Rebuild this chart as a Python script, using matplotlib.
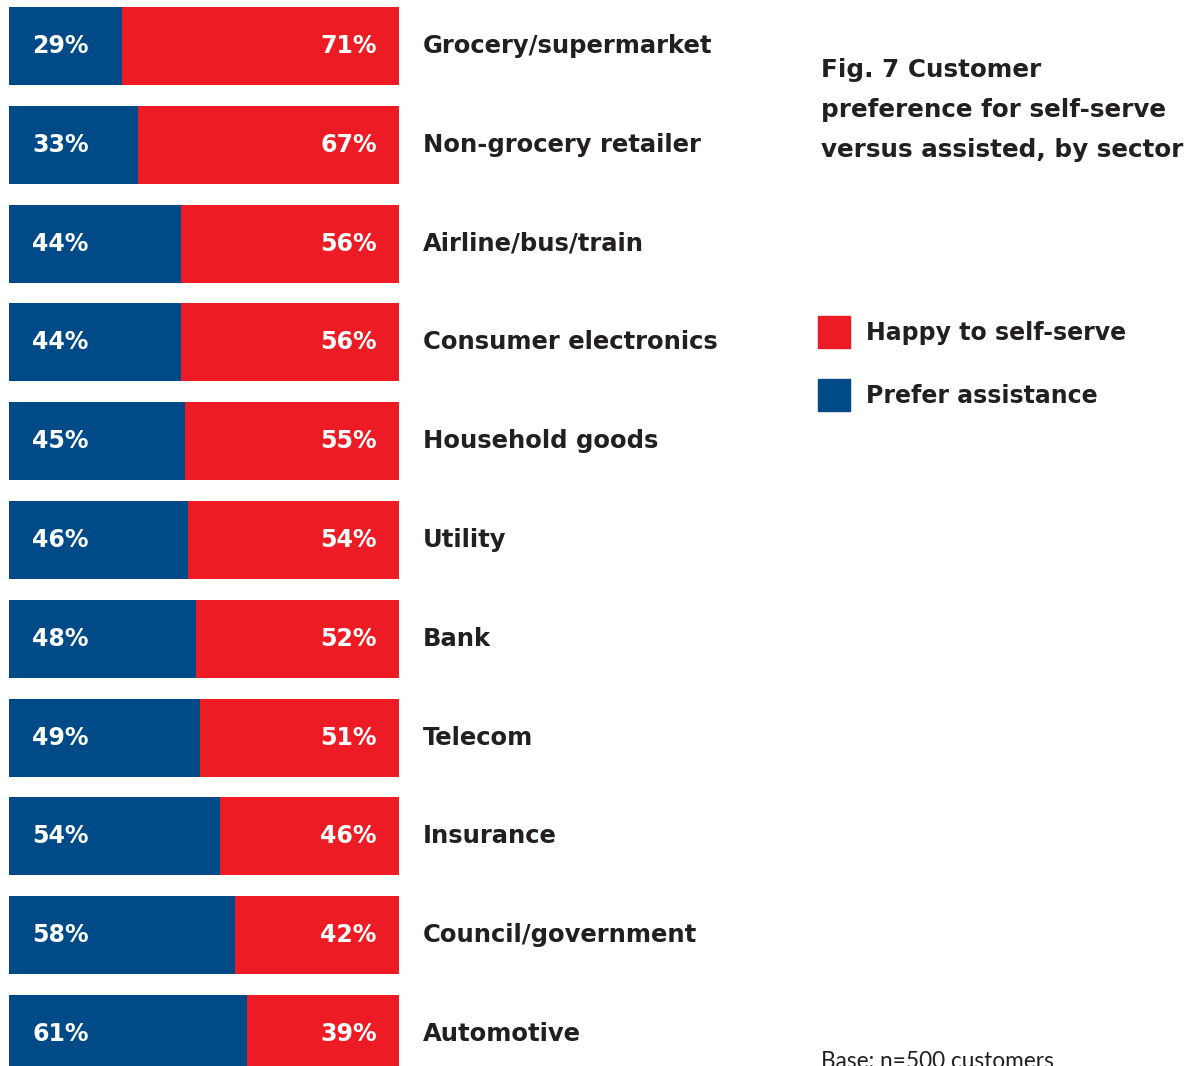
import matplotlib.pyplot as plt
from matplotlib.patches import Rectangle

sectors = ["Grocery/supermarket", "Non-grocery retailer", "Airline/bus/train",
           "Consumer electronics", "Household goods", "Utility", "Bank",
           "Telecom", "Insurance", "Council/government", "Automotive"]
prefer_assist = [29, 33, 44, 44, 45, 46, 48, 49, 54, 58, 61]
self_serve = [71, 67, 56, 56, 55, 54, 52, 51, 46, 42, 39]

BLUE = "#004a87"
RED = "#ed1c24"
DARK = "#231f20"

W, H = 1184, 1066
plt.rcParams['font.family'] = ['DejaVu Sans']

fig = plt.figure(figsize=(W / 100, H / 100), dpi=100)

# bar area spans x pixels 9..399 and the full height
ax = fig.add_axes([9 / W, 0, 390 / W, 1])
step = 98.8
first_center = 46
ax.set_xlim(0, 100)
ax.set_ylim((H - first_center) / step, -first_center / step)
ax.axis("off")

y = range(len(sectors))
ax.barh(y, prefer_assist, height=0.79, color=BLUE)
ax.barh(y, self_serve, left=prefer_assist, height=0.79, color=RED)

for i, (a, s, name) in enumerate(zip(prefer_assist, self_serve, sectors)):
    ax.text(5.9, i, f"{a}%", color="white", fontsize=17, fontweight="bold",
            va="center", ha="left")
    ax.text(94.3, i, f"{s}%", color="white", fontsize=17, fontweight="bold",
            va="center", ha="right")
    ax.text(106.2, i, name, color=DARK, fontsize=17.5, fontweight="bold",
            va="center", ha="left", clip_on=False)

# title block
title_lines = ["Fig. 7 Customer", "preference for self-serve",
               "versus assisted, by sector"]
for k, line in enumerate(title_lines):
    fig.text(821 / W, 1 - (70 + 40 * k) / H, line, color=DARK, fontsize=17.7,
             fontweight="bold", va="center", ha="left")

# legend
legend_items = [("Happy to self-serve", RED), ("Prefer assistance", BLUE)]
for k, (label, col) in enumerate(legend_items):
    top = 316 + 63 * k
    fig.patches.append(Rectangle((818 / W, 1 - (top + 32) / H), 32 / W, 32 / H,
                                 transform=fig.transFigure, color=col))
    fig.text(866 / W, 1 - (top + 17) / H, label, color=DARK, fontsize=17,
             fontweight="bold", va="center", ha="left")

fig.text(821 / W, 1 - 1068 / H, "Base: n=500 customers", color=DARK,
         fontsize=16.3, family=['Lato'], fontweight="normal", va="baseline",
         ha="left")

fig.savefig("out.png", dpi=100)
